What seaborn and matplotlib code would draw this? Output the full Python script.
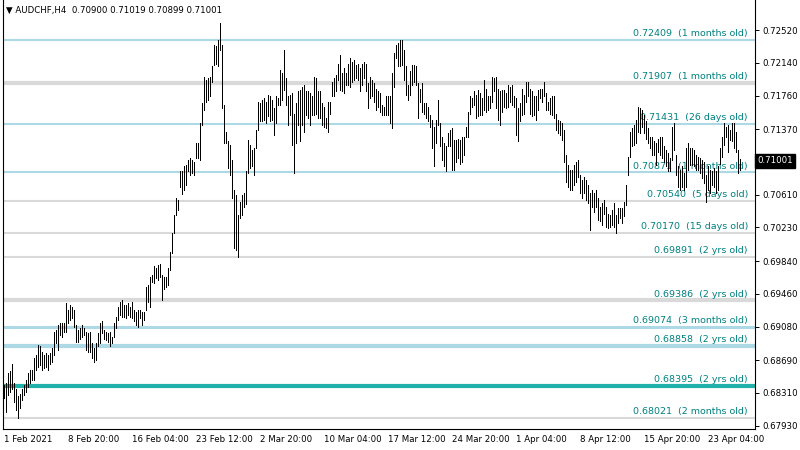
import numpy as np
import pandas as pd
import matplotlib
matplotlib.use("Agg")
import matplotlib.pyplot as plt
import matplotlib.transforms as mtransforms
import seaborn as sns

# AUDCHF H4 bars, prices x 10000 (1 Feb - 27 Apr 2021)
high = [
    6840, 6842, 6854, 6856, 6865, 6842, 6836, 6827, 6830, 6836,
    6840, 6846, 6854, 6858, 6858, 6871, 6875, 6887, 6885, 6879,
    6875, 6877, 6875, 6877, 6883, 6902, 6904, 6910, 6912, 6912,
    6912, 6935, 6927, 6933, 6931, 6927, 6910, 6904, 6906, 6910,
    6906, 6902, 6900, 6902, 6889, 6883, 6889, 6900, 6912, 6914,
    6904, 6902, 6900, 6902, 6896, 6912, 6919, 6931, 6937, 6939,
    6933, 6933, 6935, 6931, 6937, 6927, 6925, 6927, 6927, 6925,
    6925, 6954, 6956, 6966, 6968, 6978, 6976, 6979, 6981, 6968,
    6966, 6966, 6976, 6995, 7016, 7037, 7057, 7055, 7088, 7088,
    7094, 7095, 7101, 7103,
    7101, 7099, 7121, 7121, 7144, 7167, 7198, 7194, 7196, 7198,
    7210, 7235, 7233, 7240, 7260, 7235, 7165, 7134, 7123, 7119,
    7101, 7066, 7061, 7037, 7053, 7061, 7063, 7088, 7124, 7119,
    7113, 7115, 7136, 7169, 7167, 7171, 7173, 7169, 7177, 7175,
    7171, 7161, 7175, 7173, 7206, 7202, 7229, 7196, 7175, 7177,
    7179, 7155, 7167, 7181, 7182, 7186, 7188, 7181, 7181, 7179,
    7175, 7198, 7196, 7181, 7181, 7167, 7163, 7150, 7169, 7169,
    7192, 7196, 7200, 7213, 7223, 7202, 7208, 7202, 7213, 7219,
    7215, 7217, 7211, 7213, 7208, 7213, 7215, 7213, 7190, 7198,
    7194, 7190, 7184,
    7181, 7179, 7165, 7163, 7175, 7175, 7175, 7202, 7225, 7235,
    7237, 7240, 7240, 7229, 7210, 7188, 7204, 7211, 7211, 7210,
    7190, 7184, 7190, 7167, 7167, 7163, 7153, 7148, 7140, 7148,
    7171, 7144, 7128, 7121, 7117, 7132, 7136, 7138, 7124, 7124,
    7126, 7124, 7128, 7128, 7140, 7157, 7175, 7173, 7181, 7177,
    7182, 7179, 7173, 7194, 7184, 7175, 7175, 7198, 7196, 7198,
    7184, 7181, 7182, 7182, 7179, 7188, 7186, 7188, 7175, 7173,
    7161, 7167, 7184, 7177, 7192, 7192, 7184, 7181, 7175, 7175,
    7182, 7184, 7184, 7192, 7179, 7169, 7173, 7175, 7175, 7155,
    7148, 7146,
    7144, 7136, 7107, 7095, 7090, 7090, 7095, 7099, 7101, 7084,
    7078, 7082, 7078, 7072, 7063, 7066, 7063, 7066, 7057, 7047,
    7051, 7055, 7047, 7039, 7037, 7043, 7051, 7037, 7045, 7045,
    7045, 7053, 7072, 7105, 7134, 7138, 7142, 7148, 7163, 7161,
    7159, 7153, 7146, 7138, 7128, 7128, 7123, 7121, 7126, 7128,
    7128, 7117, 7113, 7109, 7103, 7140, 7144, 7107, 7094, 7090,
    7094, 7086, 7115, 7121, 7115, 7115, 7113, 7107, 7105, 7103,
    7101, 7099, 7084, 7094, 7090, 7088, 7092, 7088, 7094, 7115,
    7128, 7144, 7140, 7142, 7136, 7144, 7144, 7134, 7113, 7102,
]
low = [
    6825, 6809, 6829, 6832, 6836, 6821, 6811, 6802, 6813, 6823,
    6829, 6832, 6838, 6842, 6846, 6846, 6858, 6861, 6863, 6858,
    6860, 6861, 6858, 6865, 6867, 6875, 6889, 6881, 6898, 6896,
    6902, 6902, 6912, 6916, 6918, 6908, 6890, 6890, 6894, 6896,
    6898, 6881, 6879, 6879, 6871, 6867, 6869, 6885, 6889, 6900,
    6894, 6892, 6890, 6885, 6889, 6896, 6906, 6916, 6921, 6919,
    6919, 6918, 6921, 6919, 6918, 6914, 6910, 6908, 6918, 6910,
    6916, 6927, 6937, 6931, 6960, 6958, 6964, 6962, 6966, 6939,
    6952, 6954, 6956, 6974, 6993, 7016, 7037, 7043, 7070, 7062,
    7066, 7072, 7088, 7084,
    7086, 7084, 7103, 7103, 7101, 7142, 7159, 7169, 7171, 7175,
    7192, 7211, 7213, 7210, 7229, 7161, 7121, 7121, 7092, 7084,
    7057, 6999, 6997, 6989, 7034, 7037, 7047, 7050, 7086, 7092,
    7094, 7084, 7115, 7136, 7146, 7146, 7148, 7144, 7152, 7146,
    7148, 7130, 7144, 7165, 7165, 7171, 7182, 7165, 7142, 7153,
    7119, 7086, 7121, 7142, 7123, 7142, 7134, 7153, 7150, 7142,
    7153, 7153, 7155, 7150, 7150, 7142, 7140, 7138, 7134, 7155,
    7175, 7175, 7181, 7194, 7182, 7181, 7179, 7188, 7188, 7186,
    7192, 7194, 7196, 7194, 7181, 7188, 7196, 7181, 7161, 7173,
    7175, 7169, 7159,
    7163, 7157, 7153, 7153, 7153, 7153, 7144, 7138, 7186, 7219,
    7210, 7210, 7211, 7194, 7177, 7171, 7177, 7188, 7192, 7188,
    7150, 7169, 7157, 7155, 7150, 7146, 7140, 7115, 7094, 7121,
    7142, 7117, 7101, 7094, 7088, 7117, 7117, 7090, 7090, 7099,
    7103, 7097, 7099, 7107, 7128, 7128, 7155, 7163, 7165, 7150,
    7152, 7153, 7153, 7159, 7157, 7159, 7161, 7169, 7181, 7161,
    7148, 7142, 7157, 7163, 7161, 7163, 7169, 7165, 7163, 7130,
    7123, 7146, 7153, 7155, 7169, 7175, 7155, 7152, 7153, 7148,
    7159, 7173, 7169, 7175, 7159, 7159, 7155, 7153, 7150, 7136,
    7132, 7130,
    7124, 7099, 7076, 7070, 7066, 7066, 7072, 7076, 7082, 7063,
    7057, 7063, 7055, 7051, 7020, 7047, 7041, 7047, 7032, 7030,
    7026, 7039, 7024, 7022, 7024, 7026, 7024, 7016, 7028, 7034,
    7028, 7036, 7049, 7084, 7105, 7117, 7119, 7121, 7134, 7132,
    7140, 7132, 7126, 7121, 7115, 7107, 7107, 7095, 7111, 7107,
    7103, 7099, 7094, 7088, 7088, 7101, 7113, 7084, 7070, 7066,
    7070, 7066, 7070, 7090, 7095, 7095, 7094, 7090, 7090, 7086,
    7080, 7074, 7053, 7066, 7063, 7072, 7070, 7063, 7066, 7097,
    7105, 7119, 7128, 7111, 7124, 7123, 7115, 7111, 7086, 7090,
]

# support / resistance levels
levels = [0.72409, 0.71907, 0.71431, 0.70871, 0.70540, 0.70170,
          0.69891, 0.69386, 0.69074, 0.68858, 0.68395, 0.68021]
ages = ["1 months old", "1 months old", "26 days old", "1 months old",
        "5 days old", "15 days old", "2 yrs old", "2 yrs old",
        "3 months old", "2 yrs old", "2 yrs old", "2 months old"]
kinds = ["blue", "gray", "blue", "blue", "gray", "gray",
         "gray", "gray", "blue", "blue", "teal", "gray"]

price_ticks = [0.72520, 0.72140, 0.71760, 0.71370, 0.70610, 0.70230,
               0.69840, 0.69460, 0.69080, 0.68690, 0.68310, 0.67930]
date_labels = ["1 Feb 2021", "8 Feb 20:00", "16 Feb 04:00", "23 Feb 12:00",
               "2 Mar 20:00", "10 Mar 04:00", "17 Mar 12:00", "24 Mar 20:00",
               "1 Apr 04:00", "8 Apr 12:00", "15 Apr 20:00", "23 Apr 04:00"]
last_price = 0.71001
title = "\u25bc AUDCHF,H4  0.70900 0.71019 0.70899 0.71001"

sns.set_style("white")
plt.rcParams["font.family"] = ["DejaVu Sans"]

n = len(high)
bars = pd.DataFrame({
    "bar": np.repeat(np.arange(n), 2),
    "price": np.column_stack([np.array(low), np.array(high)]).ravel() / 10000,
})

fig = plt.figure(figsize=(8, 4.5), dpi=100)
ax = fig.add_axes([3 / 800, 21 / 450, 752 / 800, 429 / 450])

colors = {"blue": "#add8e6", "gray": "#d9d9d9", "teal": "#20b2aa"}
widths = [1.5, 3.0, 1.5, 1.5, 1.5, 1.5, 1.5, 3.0, 2.2, 3.0, 3.0, 1.5]
for lv, age, k, w in zip(levels, ages, kinds, widths):
    ax.axhline(lv, color=colors[k], lw=w, zorder=1)
    ax.annotate(f"{lv:.5f}  ({age})", xy=(372, lv), xytext=(0, 1.2),
                textcoords="offset points", ha="right", va="bottom",
                color="#008080", fontsize=6.8, zorder=2, annotation_clip=False)

sns.lineplot(data=bars, x="bar", y="price", units="bar", estimator=None,
             color="black", linewidth=0.55, sort=False, legend=False,
             ax=ax, zorder=3, antialiased=False)

ax.set_xlim(-0.5, 375.5)
ax.set_ylim(0.67892, 0.72868)

ax.yaxis.tick_right()
ax.set_yticks(price_ticks)
ax.set_yticklabels([f"{p:.5f}" for p in price_ticks])
ax.set_xticks(np.arange(len(date_labels)) * 32)
ax.set_xticklabels(date_labels, ha="left")
ax.tick_params(axis="both", direction="out", length=3, width=0.7,
               labelsize=6.2, colors="black", pad=2)
ax.tick_params(axis="x", pad=1.5)
ax.set_xlabel("")
ax.set_ylabel("")

for side in ["left", "bottom", "right"]:
    ax.spines[side].set_visible(True)
    ax.spines[side].set_color("black")
    ax.spines[side].set_linewidth(0.8)
ax.spines["top"].set_visible(False)

# current price marker on the right scale
trans = mtransforms.blended_transform_factory(ax.transAxes, ax.transData)
ax.text(1.0035, last_price, f"{last_price:.5f}", transform=trans,
        ha="left", va="center", color="white", fontsize=6.2,
        bbox=dict(boxstyle="square,pad=0.25", fc="black", ec="black"))

fig.text(6 / 800, 1 - 10 / 450, title, ha="left", va="center",
         fontsize=6.2, color="black")

fig.savefig("out.png", dpi=100)
